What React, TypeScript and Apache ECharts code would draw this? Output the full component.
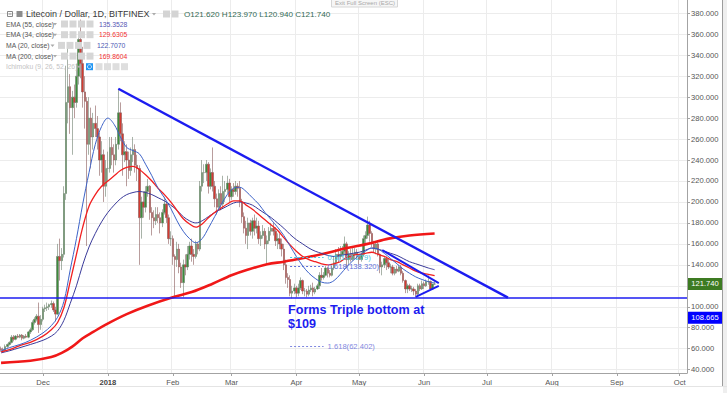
import React, { useEffect, useRef } from 'react';
import * as echarts from 'echarts';

// ---------- axis ----------
const axisStart = '2017-11-11';
const axisDays = 328; // through 2018-10-04
const monthTicks: Record<string, string> = {
  '2017-12-01': 'Dec', '2018-01-01': '2018', '2018-02-01': 'Feb', '2018-03-01': 'Mar',
  '2018-04-01': 'Apr', '2018-05-01': 'May', '2018-06-01': 'Jun', '2018-07-01': 'Jul',
  '2018-08-01': 'Aug', '2018-09-01': 'Sep', '2018-10-01': 'Oct',
};
const priceTicks = [40, 60, 80, 100, 120, 140, 160, 180, 200, 220, 240, 260, 280, 300, 320, 340, 360, 380];
// 120.000 is hidden behind the last-price tag in the reference
const priceLabels = [40, 60, 80, 100, 140, 160, 180, 200, 220, 240, 260, 280, 300, 320, 340, 360, 380];
const priceMin = 36.8;
const priceMax = 392.7;

// ---------- daily candles [open, high, low, close] from 2017-11-11 ----------
const nov2017 = [[60,62,57,59],[59,61,56,58],[58,64,57,62],[62,65,61,64],[64,67,63,66],[66,73,65,71],[71,73,67,69],[69,73,68,72],[72,74,70,71],[71,74,70,73],[73,74,68,70],[70,73,69,72],[72,74,70,71],[71,77,70,76],[76,80,74,78],[78,87,77,85],[85,90,83,88],[88,93,86,91],[91,104,75,83],[83,92,78,88]];
const dec2017 = [[88,100,86,98],[98,102,95,99],[99,104,96,100],[100,103,97,102],[102,106,99,103],[103,105,95,97],[97,100,86,93],[93,160,92,148],[148,165,125,144],[144,156,135,150],[150,215,147,208],[208,330,202,295],[295,350,275,310],[310,322,265,290],[290,306,245,300],[300,312,280,295],[295,332,290,320],[320,362,312,355],[355,374,318,332],[332,348,290,305],[305,320,270,296],[296,300,158,255],[255,300,245,280],[280,290,232,262],[262,285,250,275],[275,292,262,270],[270,282,250,262],[262,266,225,240],[240,258,228,245],[245,250,200,215],[215,240,205,232]];
const jan2018 = [[232,248,220,232],[232,262,228,252],[252,262,235,245],[245,255,228,240],[240,262,235,255],[255,308,250,285],[285,295,258,265],[265,275,225,245],[245,258,238,248],[248,255,215,240],[240,248,222,230],[230,252,225,245],[245,262,238,250],[250,255,228,235],[235,245,220,232],[232,235,140,185],[185,205,165,200],[200,210,185,195],[195,215,190,210],[210,222,205,215],[215,216,183,190],[190,195,168,185],[185,192,175,182],[182,195,178,188],[188,195,180,185],[185,190,170,180],[180,193,176,190],[190,205,188,198],[198,200,180,185],[185,188,160,165],[165,172,158,165]];
const feb2018 = [[165,168,140,148],[148,150,110,145],[145,162,138,155],[155,160,132,138],[138,142,118,123],[123,145,109,140],[140,150,130,138],[138,158,135,150],[150,162,145,158],[158,165,143,150],[150,155,140,148],[148,163,146,160],[160,162,150,155],[155,220,153,215],[215,240,210,228],[228,236,218,228],[228,240,220,236],[236,238,208,215],[215,232,212,228],[228,252,210,215],[215,220,195,203],[203,208,188,195],[195,212,192,208],[208,215,192,198],[198,225,195,210],[210,220,200,212],[212,225,208,218],[218,222,200,205]];
const mar2018 = [[205,215,202,212],[212,218,205,210],[210,220,207,215],[215,218,205,213],[213,220,195,200],[200,203,180,186],[186,190,170,175],[175,182,160,168],[168,185,155,180],[180,183,168,172],[172,185,165,182],[182,188,168,175],[175,185,170,177],[177,182,160,165],[165,172,158,168],[168,178,165,172],[172,175,155,160],[160,168,141,163],[163,176,160,172],[172,180,168,175],[175,180,168,172],[172,176,158,163],[163,170,155,165],[165,170,155,160],[160,165,148,155],[155,160,135,140],[140,145,122,128],[128,132,118,126],[126,130,110,113],[113,120,108,115],[115,122,112,118]];
const apr2018 = [[118,120,109,113],[113,122,110,118],[118,128,116,125],[125,126,112,115],[115,118,110,115],[115,117,109,112],[112,120,110,116],[116,121,114,118],[118,123,110,114],[114,119,112,117],[117,122,116,120],[120,133,117,130],[130,137,125,128],[128,133,126,130],[130,139,129,137],[137,138,128,132],[132,135,128,130],[130,139,129,137],[137,148,135,142],[142,155,140,150],[150,157,142,148],[148,158,145,150],[150,158,147,153],[153,167,150,160],[160,162,137,145],[145,153,140,150],[150,155,143,145],[145,156,144,150],[150,156,145,152],[152,155,145,148]];
const may2018 = [[148,150,140,145],[145,152,143,150],[150,168,148,165],[165,172,160,168],[168,186,165,178],[178,182,162,170],[170,172,157,160],[160,163,152,155],[155,162,150,160],[160,163,148,150],[150,151,132,138],[138,143,130,140],[140,148,137,146],[146,148,135,142],[142,146,136,138],[138,141,132,138],[138,140,130,132],[132,138,130,136],[136,139,132,134],[134,140,133,138],[138,140,130,132],[132,134,123,125],[125,126,113,117],[117,122,113,120],[120,122,115,117],[117,120,114,117],[117,119,111,115],[115,117,109,112],[112,122,110,120],[120,122,115,117],[117,125,116,122]];
const jun2018 = [[122,124,117,120],[120,126,119,124],[124,130,121,124],[124,125,116,117],[117,122,116,121.62],[121.62,123.97,120.94,121.74]];

// ---------- indicator lines ----------
const ema55Line: [string, number][] = [
  ['2017-11-11',56],['2017-11-15',58],['2017-11-20',61],['2017-11-25',64],['2017-12-01',68],['2017-12-05',72],['2017-12-08',77],['2017-12-11',87],['2017-12-14',103],['2017-12-17',120],['2017-12-20',140],['2017-12-23',157],['2017-12-26',170],['2017-12-29',181],
  ['2018-01-01',190],['2018-01-04',197],['2018-01-07',203],['2018-01-10',207],['2018-01-13',209],['2018-01-16',210],['2018-01-19',209],['2018-01-22',207],['2018-01-25',204],['2018-01-28',201],['2018-01-31',197],
  ['2018-02-03',192],['2018-02-06',186],['2018-02-09',182],['2018-02-12',180],['2018-02-15',182],['2018-02-18',186],['2018-02-21',190],['2018-02-24',193],['2018-02-27',196],
  ['2018-03-02',199],['2018-03-05',200],['2018-03-08',199],['2018-03-11',197],['2018-03-14',193],['2018-03-17',189],['2018-03-20',185],['2018-03-23',180],['2018-03-26',175],['2018-03-29',169],
  ['2018-04-01',164],['2018-04-04',160],['2018-04-07',156],['2018-04-10',153],['2018-04-13',151],['2018-04-16',149],['2018-04-19',148],['2018-04-22',149],['2018-04-25',150],['2018-04-28',151],
  ['2018-05-01',152],['2018-05-04',154],['2018-05-07',156],['2018-05-10',155],['2018-05-13',153],['2018-05-16',151],['2018-05-19',149],['2018-05-22',146],['2018-05-25',143],['2018-05-28',141],['2018-05-31',139],
  ['2018-06-03',137],['2018-06-06',135.35],
];
const ema34Line: [string, number][] = [
  ['2017-11-11',57],['2017-11-15',59],['2017-11-20',63],['2017-11-25',66],['2017-12-01',72],['2017-12-05',78],['2017-12-08',85],['2017-12-11',99],['2017-12-14',124],['2017-12-17',150],['2017-12-20',176],['2017-12-23',196],['2017-12-26',207],['2017-12-29',215],
  ['2018-01-01',220],['2018-01-04',225],['2018-01-07',230],['2018-01-10',233],['2018-01-13',234],['2018-01-16',231],['2018-01-19',226],['2018-01-22',220],['2018-01-25',213],['2018-01-28',207],['2018-01-31',200],
  ['2018-02-03',192],['2018-02-06',184],['2018-02-09',179],['2018-02-12',176],['2018-02-15',179],['2018-02-18',185],['2018-02-21',190],['2018-02-24',194],['2018-02-27',198],
  ['2018-03-02',201],['2018-03-05',201],['2018-03-08',197],['2018-03-11',193],['2018-03-14',188],['2018-03-17',183],['2018-03-20',178],['2018-03-23',173],['2018-03-26',166],['2018-03-29',159],
  ['2018-04-01',153],['2018-04-04',148],['2018-04-07',145],['2018-04-10',143],['2018-04-13',141],['2018-04-16',140],['2018-04-19',141],['2018-04-22',143],['2018-04-25',147],['2018-04-28',149],
  ['2018-05-01',150],['2018-05-04',151],['2018-05-07',152],['2018-05-10',150],['2018-05-13',148],['2018-05-16',145],['2018-05-19',143],['2018-05-22',140],['2018-05-25',137],['2018-05-28',134],['2018-05-31',132],
  ['2018-06-03',131],['2018-06-06',129.63],
];
const ma20Line: [string, number][] = [
  ['2017-11-11',58],['2017-11-15',61],['2017-11-20',64],['2017-11-25',68],['2017-12-01',75],['2017-12-05',82],['2017-12-08',90],['2017-12-11',105],['2017-12-14',135],['2017-12-17',165],['2017-12-20',198],['2017-12-23',228],['2017-12-26',255],['2017-12-29',272],
  ['2018-01-01',280],['2018-01-04',274],['2018-01-07',262],['2018-01-10',252],['2018-01-13',249],['2018-01-16',246],['2018-01-19',236],['2018-01-22',225],['2018-01-25',213],['2018-01-28',204],['2018-01-31',194],
  ['2018-02-03',182],['2018-02-06',172],['2018-02-09',165],['2018-02-12',161],['2018-02-15',165],['2018-02-18',175],['2018-02-21',186],['2018-02-24',197],['2018-02-27',207],
  ['2018-03-02',213],['2018-03-05',214],['2018-03-08',210],['2018-03-11',204],['2018-03-14',198],['2018-03-17',190],['2018-03-20',183],['2018-03-23',176],['2018-03-26',168],['2018-03-29',158],
  ['2018-04-01',148],['2018-04-04',139],['2018-04-07',132],['2018-04-10',127],['2018-04-13',123.5],['2018-04-16',122.6],['2018-04-19',125],['2018-04-22',131],['2018-04-25',138],['2018-04-28',144],
  ['2018-05-01',149],['2018-05-04',153],['2018-05-07',156],['2018-05-10',155],['2018-05-13',151],['2018-05-16',146],['2018-05-19',141],['2018-05-22',136],['2018-05-25',132],['2018-05-28',128.5],['2018-05-31',126],
  ['2018-06-03',124],['2018-06-06',122.71],
];
const ma200Line: [string, number][] = [
  ['2017-11-11',46.5],['2017-11-25',48.5],['2017-12-05',52],['2017-12-10',56],['2017-12-15',62],['2017-12-20',70],['2017-12-25',76],['2017-12-31',83],
  ['2018-01-10',93],['2018-01-20',101],['2018-02-01',109],['2018-02-10',114],['2018-02-20',122],['2018-03-01',130],['2018-03-09',135.5],['2018-03-18',140.5],['2018-03-26',143],
  ['2018-04-02',145.5],['2018-04-15',151],['2018-04-25',156],['2018-05-05',160],['2018-05-15',165],['2018-05-25',168],['2018-06-06',169.86],
];

// ---------- drawings ----------
const supportLevel = 108.665;
const lastClose = 121.74;
const trendLine: [string, number][] = [['2018-01-06', 308], ['2018-07-11', 108.7]];
const wedgeUpper: [string, number][] = [['2018-05-12', 154], ['2018-06-08', 122.6]];
const wedgeLower: [string, number][] = [['2018-05-28', 109.4], ['2018-06-08', 120]];
const fibStart = '2018-03-29';
const fibEnd = '2018-04-14';
const fibLevels = [
  { ratio: '0.5', value: 147.279, color: '#45c8e6' },
  { ratio: '0.618', value: 138.32, color: '#5d6fd8' },
  { ratio: '1.618', value: 62.402, color: '#7f88e0' },
];

const legendRows = [
  { label: 'EMA (55, close)', value: '135.3528', color: '#5656b4', boxX: 61, valX: 99, arrowX: 53 },
  { label: 'EMA (34, close)', value: '129.6305', color: '#f23232', boxX: 61, valX: 99, arrowX: 53 },
  { label: 'MA (20, close)', value: '122.7070', color: '#4c58b4', boxX: 58, valX: 97, arrowX: 50.5 },
  { label: 'MA (200, close)', value: '169.8604', color: '#f23232', boxX: 61, valX: 99, arrowX: 53 },
];

const FONT = '"Liberation Sans", Arial, sans-serif';

function dayString(start: string, offset: number): string {
  const d = new Date(start + 'T00:00:00Z');
  d.setUTCDate(d.getUTCDate() + offset);
  return d.toISOString().slice(0, 10);
}

function buildGraphics(yClose: number, ySupport: number) {
  const els: any[] = [];
  const txt = (x: number, y: number, text: string, fill: string, size: number, extra: any = {}) => ({
    type: 'text', x, y, z: 100,
    style: {
      text, fill, font: `${extra.weight || 'normal'} ${size}px ${FONT}`,
      align: extra.align || 'left', verticalAlign: extra.valign || 'middle',
      textAlign: extra.align || 'left', textVerticalAlign: extra.valign || 'middle',
      lineHeight: extra.lineHeight,
    },
  });
  const box = (x: number, y: number, w: number, h: number, fill: string, stroke?: string) => ({
    type: 'rect', z: 100, shape: { x, y, width: w, height: h }, style: { fill, stroke: stroke || 'none', lineWidth: 1 },
  });
  const arrow = (x: number, y: number) => ({
    type: 'polygon', z: 100, shape: { points: [[x, y - 1], [x + 4, y - 1], [x + 2, y + 1.5]] }, style: { fill: '#aaaaaa' },
  });

  // title row
  els.push({ type: 'rect', z: 100, shape: { x: 7.5, y: 11.5, width: 5, height: 5 }, style: { fill: 'none', stroke: '#888', lineWidth: 1 } });
  els.push({ type: 'line', z: 100, shape: { x1: 8.5, y1: 14, x2: 11.5, y2: 14 }, style: { stroke: '#888', lineWidth: 1 } });
  els.push(box(16.5, 11, 6, 6, '#8c8c8c'));
  els.push(txt(26, 14, 'Litecoin / Dollar, 1D, BITFINEX', '#3a3a3a', 9));
  els.push(arrow(152, 14));
  els.push(box(163, 10.5, 7, 7, '#d4d4d4'));
  els.push(box(171.5, 10.5, 7, 7, '#d4d4d4'));
  els.push(txt(184, 14, 'O121.620 H123.970 L120.940 C121.740', '#356b55', 8.1));

  // indicator rows
  legendRows.forEach((r, i) => {
    const y = 24 + i * 10.7;
    els.push(txt(6, y, r.label, '#555555', 6.8));
    els.push(arrow(r.arrowX, y));
    for (let k = 0; k < 4; k++) els.push(box(r.boxX + k * 8.5, y - 3.5, 7, 7, '#d6d6d6'));
    els.push(txt(r.valX, y, r.value, r.color, 6.8));
  });
  const yi = 66.7;
  els.push(txt(6, yi, 'Ichimoku (9, 26, 52, 26)', '#c4c4c4', 6.8));
  els.push(arrow(77, yi));
  els.push(box(86, yi - 3.5, 7, 7, '#2196f3'));
  els.push({ type: 'circle', z: 101, shape: { cx: 89.5, cy: yi, r: 2 }, style: { fill: 'none', stroke: '#fff', lineWidth: 0.8 } });
  for (let k = 0; k < 4; k++) els.push(box(95.5 + k * 8.5, yi - 3.5, 7, 7, '#dedede'));

  // exit full screen hint
  els.push(box(331.5, -1, 66, 8, '#f6f6f6', '#d6d6d6'));
  els.push(txt(335, 3.2, 'Exit Full Screen (ESC)', '#a8a8a8', 6));

  // annotation
  els.push(txt(288, 303, 'Forms Triple bottom at\n$109', '#1c1cf0', 12.6, { weight: 'bold', valign: 'top', lineHeight: 14 }));

  // price axis panel border
  els.push({ type: 'line', z: 100, shape: { x1: 722.5, y1: 0, x2: 722.5, y2: 386 }, style: { stroke: '#9c9c9c', lineWidth: 1 } });
  els.push(box(723, 0, 4, 393, '#eeeeee'));
  els.push({ type: 'line', z: 100, shape: { x1: 0, y1: 386.5, x2: 727, y2: 386.5 }, style: { stroke: '#e4e4e4', lineWidth: 1 } });

  // price labels
  els.push(box(688, yClose - 6, 34, 12, '#3d7b22'));
  els.push(txt(705, yClose, lastClose.toFixed(3), '#ffffff', 7.6, { align: 'center' }));
  els.push(box(688, ySupport + 14, 34, 12, '#0000ff'));
  els.push(txt(705, ySupport + 20, supportLevel.toFixed(3), '#ffffff', 7.6, { align: 'center' }));
  return els;
}

export default function App() {
  const ref = useRef<HTMLDivElement>(null);
  useEffect(() => {
    if (!ref.current) return;
    const chart = echarts.init(ref.current, null, { renderer: 'svg' });

    const categories: string[] = [];
    for (let i = 0; i < axisDays; i++) categories.push(dayString(axisStart, i));

    const allCandles = [...nov2017, ...dec2017, ...jan2018, ...feb2018, ...mar2018, ...apr2018, ...may2018, ...jun2018];
    const candleData = allCandles.map(([o, h, l, c]) => [o, c, l, h]);

    const isTick = (_i: number, v: string) => v in monthTicks;

    const mkLine = (a: [string, number][], color: string, lineStyle: any) => [
      { coord: a[0], lineStyle: { color, ...lineStyle } },
      { coord: a[1] },
    ];

    const markData: any[] = [
      { yAxis: supportLevel, lineStyle: { color: '#1c1cf0', width: 1.6, type: 'solid' } },
      mkLine(trendLine, '#1c1cf0', { width: 2.4, type: 'solid' }),
      mkLine(wedgeUpper, '#1c1cf0', { width: 2, type: 'solid' }),
      mkLine(wedgeLower, '#1c1cf0', { width: 2, type: 'solid' }),
      ...fibLevels.map((f) => [
        {
          coord: [fibStart, f.value],
          lineStyle: { color: f.color, width: 1, type: [2, 2] },
          label: { show: true, position: 'end', distance: 4, formatter: `${f.ratio}(${f.value.toFixed(3)})`, color: f.color, fontSize: 7.6, fontFamily: FONT, padding: [6, 0, 0, 0] },
        },
        { coord: [fibEnd, f.value] },
      ]),
    ];

    const lineSeries = (name: string, data: [string, number][], color: string, width: number, z: number) => ({
      name, type: 'line', data, smooth: 0.35, showSymbol: false, symbol: 'none', z,
      lineStyle: { color, width }, silent: true,
    });

    const option: any = {
      animation: false,
      backgroundColor: '#ffffff',
      grid: { left: 0, right: 40, top: 0, bottom: 20, containLabel: false },
      xAxis: {
        type: 'category', data: categories, boundaryGap: true,
        axisLine: { show: true, lineStyle: { color: '#a3a3a3', width: 1 } },
        axisTick: { show: true, interval: isTick, alignWithLabel: true, length: 3, lineStyle: { color: '#a3a3a3' } },
        axisLabel: {
          interval: isTick, margin: 5, color: '#555555', fontSize: 7.6, fontFamily: FONT,
          formatter: (v: string) => (monthTicks[v] === '2018' ? '{b|2018}' : monthTicks[v] || ''),
          rich: { b: { fontWeight: 'bold', color: '#444444', fontSize: 7.6, fontFamily: FONT } },
        },
        splitLine: { show: true, interval: isTick, lineStyle: { color: '#ececec', width: 1 } },
      },
      yAxis: {
        type: 'value', position: 'right', min: priceMin, max: priceMax,
        axisLine: { show: true, lineStyle: { color: '#a3a3a3' } },
        axisTick: { show: true, customValues: priceTicks, length: 3, lineStyle: { color: '#a3a3a3' } },
        axisLabel: { customValues: priceLabels, formatter: (v: number) => v.toFixed(3), color: '#555555', fontSize: 7.6, fontFamily: FONT, margin: 4 },
        splitLine: { show: true, lineStyle: { color: '#ececec', width: 1 } },
      },
      series: [
        {
          name: 'LTCUSD', type: 'candlestick', data: candleData, barWidth: 2, z: 2, silent: true,
          itemStyle: { color: '#3c8c3a', color0: '#d43a30', borderColor: '#6f7f6f', borderColor0: '#8a5a5a', borderWidth: 0.6 },
          markLine: { silent: true, symbol: ['none', 'none'], label: { show: false }, emphasis: { disabled: true }, data: markData, z: 5 },
        },
        lineSeries('MA 200', ma200Line, '#f01818', 2.6, 3),
        lineSeries('EMA 55', ema55Line, '#3a3a9a', 1, 4),
        lineSeries('EMA 34', ema34Line, '#f22020', 1.3, 4),
        lineSeries('MA 20', ma20Line, '#3d63c8', 1, 4),
      ],
    };
    chart.setOption(option);
    const yClose = chart.convertToPixel({ yAxisIndex: 0 }, lastClose) as number;
    const ySupport = chart.convertToPixel({ yAxisIndex: 0 }, supportLevel) as number;
    chart.setOption({ graphic: { elements: buildGraphics(yClose, ySupport) } });
    return () => chart.dispose();
  }, []);
  return <div ref={ref} style={{ position: 'fixed', left: 0, top: 0, width: 727, height: 393, background: '#fff' }} />;
}
